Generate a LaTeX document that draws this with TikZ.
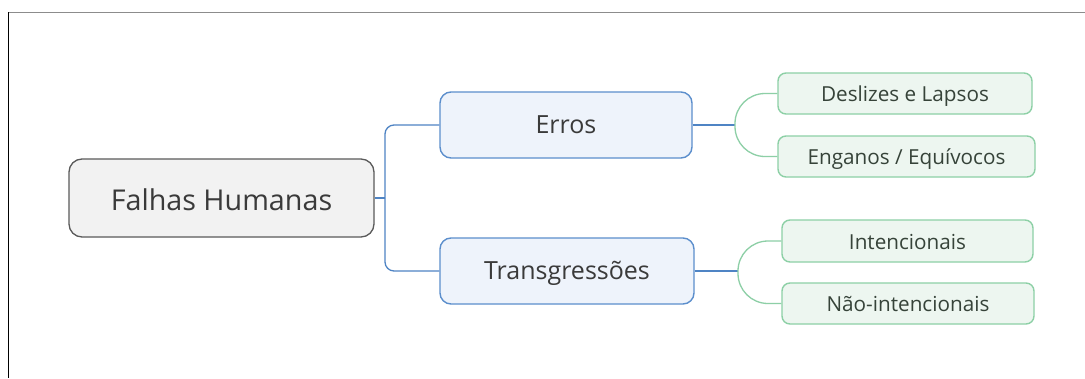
\documentclass[tikz,border=0pt]{standalone}
\usepackage{fontspec}
\setmainfont{Open Sans}
\definecolor{rootfill}{HTML}{F2F2F2}
\definecolor{rootdraw}{HTML}{5A5A5A}
\definecolor{midfill}{HTML}{EEF3FB}
\definecolor{middraw}{HTML}{5B8ECC}
\definecolor{leaffill}{HTML}{EDF6F0}
\definecolor{leafdraw}{HTML}{8DD0A6}
\definecolor{bline}{HTML}{4F84C4}
\definecolor{gline}{HTML}{8DCFA6}
\definecolor{txt}{HTML}{3A3A3A}
\definecolor{leaftxt}{HTML}{364339}
\tikzset{
  rootbox/.style={draw=rootdraw, fill=rootfill, line width=1.3pt, rounded corners=13pt, minimum width=305pt, minimum height=78pt, inner sep=0pt, text=txt, font=\fontsize{28.7}{32}\selectfont, text height=28pt, text depth=3.6pt},
  midbox/.style={draw=middraw, fill=midfill, line width=1.4pt, rounded corners=11pt, minimum height=66pt, inner sep=0pt, text=txt, font=\fontsize{25}{28}\selectfont, text height=21pt, text depth=3.1pt},
  leafbox/.style={draw=leafdraw, fill=leaffill, line width=1.4pt, rounded corners=8pt, minimum height=41pt, inner sep=0pt, text=leaftxt, font=\fontsize{20.7}{23}\selectfont, text height=20pt, text depth=3.2pt},
  bconn/.style={draw=bline, line width=1.3pt, rounded corners=9pt},
  gconn/.style={draw=gline, line width=1.3pt, rounded corners=30pt},
}
\begin{document}
\begin{tikzpicture}[x=1pt,y=-1pt]
\useasboundingbox (0,0) rectangle (1085,378);
\fill[white] (0,0) rectangle (1085,378);
\draw[draw=black!45, line width=1pt] (8,12) -- (1085,12);
\draw[draw=black, line width=1pt] (8,12) -- (8,378);

\node[rootbox] (root) at (221.5,198) {Falhas Humanas};
\node[midbox, minimum width=252pt] (erros) at (566,125) {Erros};
\node[midbox, minimum width=254pt] (trans) at (567,271) {Transgressões};
\node[leafbox, minimum width=254pt] (desl) at (905,93.5) {Deslizes e Lapsos};
\node[leafbox, minimum width=257pt] (eng) at (906.5,156.5) {Enganos / Equívocos};
\node[leafbox, minimum width=251pt, minimum height=42pt] (int) at (907.5,241) {Intencionais};
\node[leafbox, minimum width=252pt] (nint) at (908,303.5) {Não-intencionais};

\coordinate (j1) at (385,198);
\coordinate (j2) at (735,125);
\coordinate (j3) at (738,271);

\draw[bconn] (root.east) -- (j1);
\draw[bconn] (j1) |- (erros.west);
\draw[bconn] (j1) |- (trans.west);
\draw[bconn] (erros.east) -- (j2);
\draw[bconn] (trans.east) -- (j3);
\draw[gconn] (j2) |- (desl.west);
\draw[gconn] (j2) |- (eng.west);
\draw[gconn] (j3) |- (int.west);
\draw[gconn] (j3) |- (nint.west);
\end{tikzpicture}
\end{document}
